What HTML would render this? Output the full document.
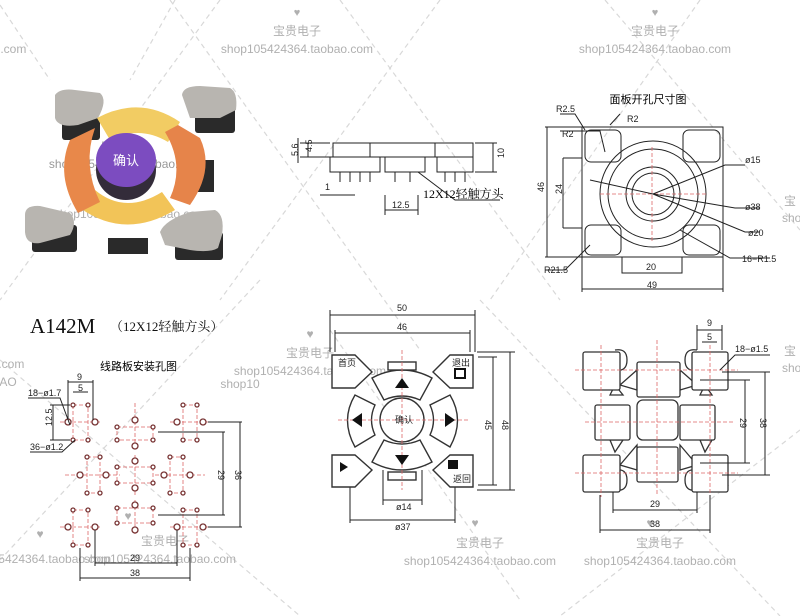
<!DOCTYPE html>
<html><head><meta charset="utf-8"><style>
html,body{margin:0;padding:0;background:#fff;}
svg{display:block}
.wm{fill:#b0b0b0;font-family:"Liberation Sans","Noto Sans CJK SC",sans-serif;font-size:12px}
.d{stroke:#222;stroke-width:1;fill:none}
.r{stroke:#d66;stroke-width:0.8;stroke-dasharray:4 2;fill:none}
.t{font-family:"Liberation Sans","Noto Sans CJK SC",sans-serif;font-size:9px;fill:#222}
</style></head><body>
<svg width="800" height="616" viewBox="0 0 800 616" xmlns="http://www.w3.org/2000/svg">
<rect width="800" height="616" fill="#fff"/>
<g stroke="#d8d8d8" stroke-width="1.2" stroke-dasharray="5 4" fill="none">
<path d="M0 5 L50 80 M175 0 L130 80"/>
<path d="M220 0 L0 300 M170 0 L420 350"/>
<path d="M340 0 L560 300 M440 0 L220 300"/>
<path d="M605 0 L800 230 M700 0 L490 300"/>
<path d="M0 360 L300 616 M260 280 L0 560"/>
<path d="M480 300 L780 616 M800 430 L560 616"/>
<path d="M330 330 L520 600"/>
</g>
<g class="wm" text-anchor="middle">
<text x="297" y="16" font-size="11">♥</text><text x="297" y="35">宝贵电子</text><text x="297" y="53">shop105424364.taobao.com</text>
<text x="655" y="16" font-size="11">♥</text><text x="655" y="35">宝贵电子</text><text x="655" y="53">shop105424364.taobao.com</text>
<text x="10" y="53">o.com</text>
<text x="125" y="150">宝贵电子</text><text x="125" y="168" fill="#999">shop105424364.taobao.com</text>
<text x="130" y="218">shop105424364.taobao.com</text>
<text x="790" y="205">宝</text><text x="795" y="222">shop</text>
<text x="310" y="338">♥</text><text x="310" y="357">宝贵电子</text><text x="310" y="375">shop105424364.taobao.com</text>
<text x="8" y="368">o.com</text><text x="8" y="386">AO</text>
<text x="240" y="388">shop10</text>
<text x="790" y="355">宝</text><text x="795" y="372">shop</text>
<text x="128" y="520">♥</text><text x="165" y="545">宝贵电子</text><text x="160" y="563">shop105424364.taobao.com</text>
<text x="40" y="538">♥</text><text x="35" y="563">shop105424364.taobao.com</text>
<text x="475" y="527">♥</text><text x="480" y="547">宝贵电子</text><text x="480" y="565">shop105424364.taobao.com</text>
<text x="650" y="527">♥</text><text x="660" y="547">宝贵电子</text><text x="660" y="565">shop105424364.taobao.com</text>
</g>

<g>
<g fill="#2a2a2a"><rect x="62" y="118" width="38" height="22" rx="3"/><rect x="195" y="105" width="40" height="28" rx="3"/><rect x="32" y="225" width="45" height="27" rx="3"/><rect x="175" y="232" width="48" height="28" rx="3"/><rect x="108" y="238" width="40" height="16"/><rect x="198" y="160" width="16" height="32"/></g>
<path d="M55 95 Q60 88 75 90 L100 93 Q108 100 98 118 L78 125 Q58 128 55 118Z" fill="#b8b5b0"/>
<path d="M182 95 Q183 86 200 86 L230 88 Q238 92 236 110 L220 118 L190 118 Z" fill="#b8b5b0"/>
<path d="M25 215 Q25 205 40 206 L70 213 Q78 222 70 235 L40 243 Q26 245 25 232Z" fill="#b8b5b0"/>
<path d="M160 232 Q165 220 190 212 L215 210 Q225 215 222 235 L218 248 Q210 253 190 250 L165 245Z" fill="#b8b5b0"/>
<path d="M97 118 Q140 95 180 122 L168 142 Q140 125 110 140Z" fill="#f2cc63"/>
<path d="M80 208 Q125 240 175 210 L162 192 Q125 215 95 190Z" fill="#f2c458"/>
<path d="M70 140 L95 128 Q82 165 100 202 L78 213 Q55 175 70 140Z" fill="#e8884a"/>
<path d="M178 125 L200 138 Q215 170 190 205 L170 198 Q185 165 165 132Z" fill="#e6844a"/>
<ellipse cx="126" cy="170" rx="30" ry="30" fill="#332c3a"/>
<ellipse cx="126" cy="160" rx="30" ry="27" fill="#7c4cc0"/>
<text x="126" y="165" text-anchor="middle" fill="#fff" font-size="13" font-family="Liberation Sans,Noto Sans CJK SC,sans-serif">确认</text>
</g>

<text x="30" y="333" font-family="Liberation Serif,serif" font-size="21" fill="#111">A142M</text>
<text x="110" y="331" font-family="Liberation Serif,Noto Serif CJK SC,serif" font-size="13" fill="#111">（12X12轻触方头）</text>

<g class="d">
<rect x="333" y="143" width="140" height="14"/><line x1="370" y1="143" x2="370" y2="157"/><line x1="435" y1="143" x2="435" y2="157"/>
<rect x="330" y="157" width="50" height="15"/><rect x="385" y="157" width="40" height="15"/><rect x="437" y="157" width="36" height="15"/>
<path d="M340 172 v10 M350 172 v10 M360 172 v10 M370 172 v10 M395 172 v10 M410 172 v10 M445 172 v10 M455 172 v10 M465 172 v10"/>
<path d="M475 143 h22 M475 172 h22 M493 143 v29 M300 143 h30 M300 157 h30 M298 138 v25 M308 143 v14 M385 195 v20 M418 195 v20 M385 210 h33 M320 195 h35 M418 172 L455 200 L500 200"/>
</g>
<g class="t"><text x="288" y="158" transform="rotate(-90 292 152)">5.6</text><text x="304" y="156" transform="rotate(-90 306 150)">4.5</text><text x="500" y="162" transform="rotate(-90 500 158)">10</text><text x="325" y="190">1</text><text x="392" y="208">12.5</text></g>
<text x="423" y="198" font-family="Liberation Serif,Noto Serif CJK SC,serif" font-size="12">12X12轻触方头</text>

<text x="648" y="103" text-anchor="middle" font-family="Liberation Sans,Noto Sans CJK SC,sans-serif" font-size="11">面板开孔尺寸图</text>
<g class="d" stroke-width="1.2">
<path d="M582 127 H723 V257 H582 Z"/>
<rect x="585" y="130" width="36" height="32" rx="6"/><rect x="683" y="130" width="37" height="32" rx="6"/>
<rect x="585" y="225" width="36" height="30" rx="6"/><rect x="683" y="225" width="37" height="30" rx="6"/>
<circle cx="653" cy="194" r="53"/><circle cx="653" cy="194" r="45"/><circle cx="653" cy="194" r="27"/><circle cx="653" cy="194" r="21"/>
<path d="M563 158 H582 M563 228 H582 M563 158 V228 M622 257 V273 H682 V257 M582 257 V292 M723 257 V292 M582 289 H723 M545 127 H582 M545 257 H582 M547 127 V257"/>
<path d="M560 114 L575 114 L585 130 M620 114 L610 125 M560 131 L600 131 L605 152"/>
<path d="M652 147 V242 M600 194 H706" stroke="#d66" stroke-dasharray="4 2" stroke-width="0.8"/>
<path d="M653 194 L725 165 H745 M653 194 L735 208 H760 M653 194 L745 232 H760 M680 230 L730 258 H770 M590 245 L565 270 H545 M653 194 L590 180"/>
</g>
<g class="t"><text x="556" y="112">R2.5</text><text x="627" y="122">R2</text><text x="562" y="137">R2</text><text x="745" y="163">ø15</text><text x="745" y="210">ø38</text><text x="748" y="236">ø20</text><text x="742" y="262">16−R1.5</text><text x="544" y="273">R21.5</text><text x="646" y="270">20</text><text x="647" y="288">49</text><text x="540" y="196" transform="rotate(-90 540 192)">46</text><text x="556" y="196" transform="rotate(-90 558 192)">24</text></g>

<text x="100" y="370" font-family="Liberation Sans,Noto Sans CJK SC,sans-serif" font-size="11">线路板安装孔图</text>
<g class="r">
<path d="M73 405 H88 V440 H73Z M60 422 H100 M183 405 H197 V440 H183Z M170 422 H210 M73 510 H88 V545 H73Z M60 527 H100 M183 510 H197 V545 H183Z M170 527 H210 M87 457 H100 V493 H87Z M65 475 H120 M170 457 H183 V493 H170Z M155 475 H205 M117 427 H153 V440 H117Z M135 403 V450 M117 467 H153 V483 H117Z M135 455 V495 M117 508 H153 V523 H117Z M135 500 V535"/>
</g>
<g fill="#fff" stroke="#733" stroke-width="1.3">
<circle cx="73" cy="405" r="2"/>
<circle cx="88" cy="405" r="2"/><circle cx="73" cy="440" r="2"/><circle cx="88" cy="440" r="2"/><circle cx="68" cy="422" r="3"/><circle cx="95" cy="422" r="3"/>
<circle cx="183" cy="405" r="2"/><circle cx="197" cy="405" r="2"/><circle cx="183" cy="440" r="2"/><circle cx="197" cy="440" r="2"/><circle cx="177" cy="422" r="3"/><circle cx="203" cy="422" r="3"/>
<circle cx="73" cy="510" r="2"/><circle cx="88" cy="510" r="2"/><circle cx="73" cy="545" r="2"/><circle cx="88" cy="545" r="2"/><circle cx="68" cy="527" r="3"/><circle cx="95" cy="527" r="3"/>
<circle cx="183" cy="510" r="2"/><circle cx="197" cy="510" r="2"/><circle cx="183" cy="545" r="2"/><circle cx="197" cy="545" r="2"/><circle cx="177" cy="527" r="3"/><circle cx="203" cy="527" r="3"/>
<circle cx="87" cy="457" r="2"/><circle cx="100" cy="457" r="2"/><circle cx="87" cy="493" r="2"/><circle cx="100" cy="493" r="2"/><circle cx="80" cy="475" r="3"/><circle cx="106" cy="475" r="3"/>
<circle cx="170" cy="457" r="2"/><circle cx="183" cy="457" r="2"/><circle cx="170" cy="493" r="2"/><circle cx="183" cy="493" r="2"/><circle cx="164" cy="475" r="3"/><circle cx="190" cy="475" r="3"/>
<circle cx="117" cy="427" r="2"/><circle cx="153" cy="427" r="2"/><circle cx="117" cy="440" r="2"/><circle cx="153" cy="440" r="2"/><circle cx="135" cy="420" r="3"/><circle cx="135" cy="446" r="3"/>
<circle cx="117" cy="467" r="2"/><circle cx="153" cy="467" r="2"/><circle cx="117" cy="483" r="2"/><circle cx="153" cy="483" r="2"/><circle cx="135" cy="461" r="3"/><circle cx="135" cy="488" r="3"/>
<circle cx="117" cy="508" r="2"/><circle cx="153" cy="508" r="2"/><circle cx="117" cy="523" r="2"/><circle cx="153" cy="523" r="2"/><circle cx="135" cy="505" r="3"/><circle cx="135" cy="530" r="3"/>
</g>
<g class="d">
<path d="M158 432 H225 M158 515 H225 M223 432 V515 M208 422 H242 M208 527 H242 M240 422 V527 M95 530 V566 M177 530 V566 M95 563 H177 M80 548 V581 M190 548 V581 M80 578 H190 M68 380 V420 M93 380 V420 M68 382 H93 M73 392 H88 M50 405 H70 M50 440 H70 M53 405 V440 M28 398 H60 L70 425 M30 452 H62 L75 440"/>
</g>
<g class="t"><text x="77" y="380">9</text><text x="78" y="391">5</text><text x="28" y="396">18−ø1.7</text><text x="30" y="450">36−ø1.2</text><text x="42" y="428" transform="rotate(-90 46 422)">12.5</text><text x="218" y="478" transform="rotate(90 222 474)">29</text><text x="235" y="478" transform="rotate(90 239 474)">36</text><text x="130" y="561">29</text><text x="130" y="576">38</text></g>

<g class="d">
<path d="M330 315 H475 M330 310 V352 M475 310 V352 M335 333 H470 M335 330 V352 M470 330 V352 M477 352 H515 M477 490 H515 M510 352 V490 M478 357 H497 M478 485 H497 M493 357 V485 M383 470 V505 M422 470 V505 M383 500 H422 M350 470 V523 M455 470 V523 M350 520 H455"/>
</g>
<g fill="#fff" stroke="#333" stroke-width="1.4">
<path d="M332 355 H355 L372 372 L355 388 H332Z"/><path d="M473 355 H450 L433 372 L450 388 H473Z"/>
<path d="M332 487 H355 L372 470 L355 455 H332Z"/><path d="M473 487 H450 L433 470 L450 455 H473Z"/>
<path d="M372 378 Q402 362 432 378 L420 400 Q402 392 384 400Z"/><path d="M372 462 Q402 478 432 462 L420 440 Q402 448 384 440Z"/>
<path d="M355 395 Q340 420 355 447 L375 435 Q368 420 375 405Z"/><path d="M450 395 Q465 420 450 447 L430 435 Q437 420 430 405Z"/>
<circle cx="402" cy="420" r="22"/>
<rect x="388" y="362" width="28" height="8"/><rect x="388" y="472" width="28" height="8"/>
</g>
<path d="M402 350 V490 M338 420 H468" stroke="#d66" stroke-width="0.8" stroke-dasharray="4 2"/>
<g fill="#111"><path d="M395 388 L402 378 L409 388Z"/><path d="M395 455 L402 465 L409 455Z"/><path d="M352 420 L362 413 L362 427Z"/><path d="M455 420 L445 413 L445 427Z"/><rect x="448" y="460" width="10" height="9"/><path d="M340 462 L348 467 L340 472Z"/><rect x="455" y="369" width="10" height="9" fill="none" stroke="#111" stroke-width="2"/></g>
<g class="t" font-size="8"><text x="338" y="366">首页</text><text x="452" y="366">退出</text><text x="395" y="423">确认</text><text x="453" y="482">返回</text></g>
<g class="t"><text x="397" y="311">50</text><text x="397" y="330">46</text><text x="396" y="510">ø14</text><text x="395" y="530">ø37</text><text x="485" y="428" transform="rotate(90 489 424)">45</text><text x="502" y="428" transform="rotate(90 506 424)">48</text></g>

<g fill="#fff" stroke="#333" stroke-width="1.3">
<path d="M615 350 q12 -2 12 10 q0 12 -12 10 M697 350 q-12 -2 -12 10 q0 12 12 10 M615 470 q12 -2 12 10 q0 12 -12 10 M697 470 q-12 -2 -12 10 q0 12 12 10"/>
<path d="M637 370 L620 385 L637 390Z M680 370 L697 385 L680 390Z M637 445 L620 465 L637 470Z M680 445 L697 465 L680 470Z M610 395 L615 385 L623 395Z M700 395 L705 385 L712 395Z M610 440 L615 452 L623 440Z M700 440 L705 452 L712 440Z"/>
<rect x="583" y="352" width="37" height="38" rx="2"/><rect x="637" y="362" width="43" height="35" rx="2"/><rect x="692" y="352" width="36" height="38" rx="2"/>
<rect x="595" y="405" width="35" height="35" rx="2"/><rect x="637" y="400" width="41" height="40" rx="6"/><rect x="680" y="405" width="35" height="35" rx="2"/>
<rect x="583" y="455" width="37" height="37" rx="2"/><rect x="637" y="447" width="41" height="35" rx="2"/><rect x="692" y="455" width="36" height="37" rx="2"/>
</g>
<path d="M601 345 V497 M710 345 V497 M657 340 V495 M575 370 H738 M585 422 H735 M575 473 H738" stroke="#d66" stroke-width="0.8" stroke-dasharray="4 2"/>
<g class="d">
<path d="M697 325 V350 M722 325 V350 M697 330 H722 M702 342 H717 M722 372 H770 M722 475 H770 M765 372 V475 M700 380 H750 M700 463 H750 M745 380 V463 M613 492 V513 M697 492 V513 M613 510 H697 M600 495 V533 M710 495 V533 M600 530 H710 M720 370 L735 355 H770"/>
</g>
<g class="t"><text x="707" y="326">9</text><text x="707" y="340">5</text><text x="735" y="352">18−ø1.5</text><text x="650" y="507">29</text><text x="650" y="527">38</text><text x="740" y="426" transform="rotate(90 744 422)">29</text><text x="760" y="426" transform="rotate(90 764 422)">38</text></g>
</svg>
</body></html>
